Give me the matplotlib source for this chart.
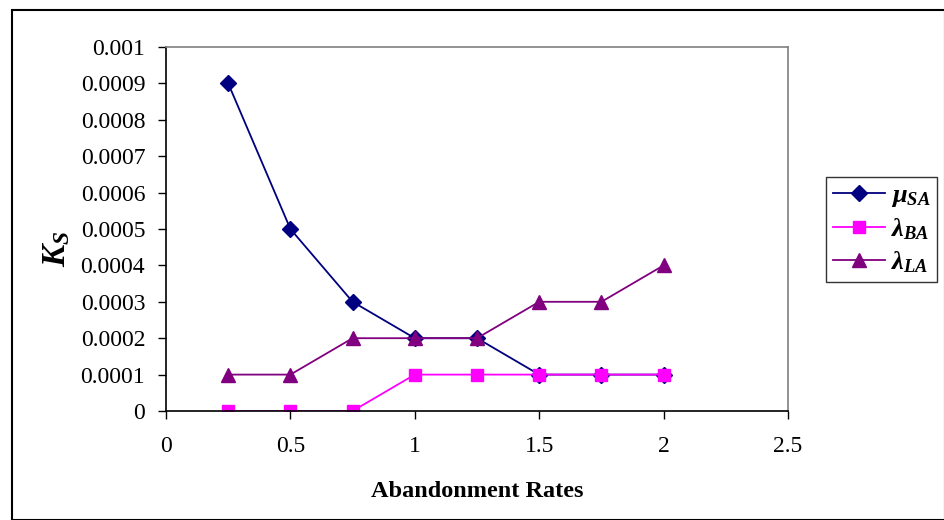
import matplotlib
matplotlib.use("Agg")
import matplotlib.pyplot as plt
from matplotlib.patches import Rectangle

plt.rcParams['font.family'] = ['Liberation Serif', 'DejaVu Serif']
plt.rcParams['mathtext.fontset'] = 'custom'
plt.rcParams['mathtext.rm'] = 'Liberation Serif:bold'
plt.rcParams['mathtext.it'] = 'Liberation Serif:bold:italic'
plt.rcParams['mathtext.bf'] = 'Liberation Serif:bold'

rates = [0.25, 0.5, 0.75, 1.0, 1.25, 1.5, 1.75, 2.0]
mu_sa = [0.0009, 0.0005, 0.0003, 0.0002, 0.0002, 0.0001, 0.0001, 0.0001]
lambda_ba = [0.0, 0.0, 0.0, 0.0001, 0.0001, 0.0001, 0.0001, 0.0001]
lambda_la = [0.0001, 0.0001, 0.0002, 0.0002, 0.0002, 0.0003, 0.0003, 0.0004]

x_ticks = [0, 0.5, 1, 1.5, 2, 2.5]
x_tick_labels = ['0', '0.5', '1', '1.5', '2', '2.5']
y_ticks = [0, 0.0001, 0.0002, 0.0003, 0.0004, 0.0005, 0.0006, 0.0007, 0.0008, 0.0009, 0.001]
y_tick_labels = ['0', '0.0001', '0.0002', '0.0003', '0.0004', '0.0005',
                 '0.0006', '0.0007', '0.0008', '0.0009', '0.001']

fig = plt.figure(figsize=(9.45, 5.2), dpi=100)
fig.patch.set_facecolor('white')

# outer chart frame
fig.add_artist(Rectangle((12 / 945, 0.0), 1 - 12 / 945, 1 - 10 / 520,
                         transform=fig.transFigure, fill=False,
                         edgecolor='black', linewidth=1.5))

ax = fig.add_axes([166 / 945, 1 - 411 / 520, 622 / 945, 364 / 520])
ax.plot(rates, mu_sa, color='#000080', marker='D', markersize=8.5, linewidth=1.3,
        label=r'$\mu_{SA}$')
ax.plot(rates, lambda_ba, color='#FF00FF', marker='s', markersize=9, linewidth=1.3,
        label=r'$\lambda_{BA}$')
ax.plot(rates, lambda_la, color='#800080', marker='^', markersize=10, linewidth=1.3,
        label=r'$\lambda_{LA}$')

ax.set_xlim(0, 2.5)
ax.set_ylim(0, 0.001)
ax.set_xticks(x_ticks)
ax.set_xticklabels(x_tick_labels)
ax.set_yticks(y_ticks)
ax.set_yticklabels(y_tick_labels)
ax.tick_params(direction='out', length=6, width=1, labelsize=17, pad=9)
ax.tick_params(axis='x', pad=12)

for side in ('top', 'right'):
    ax.spines[side].set_color('#808080')
    ax.spines[side].set_linewidth(1.2)
for side in ('left', 'bottom'):
    ax.spines[side].set_color('black')
    ax.spines[side].set_linewidth(1.2)

ax.set_xlabel('Abandonment Rates', fontsize=17.5, fontweight='bold', labelpad=17)
fig.text(57 / 945, 1 - 249 / 520, r'$K_S$', fontsize=24,
         rotation=90, ha='center', va='center')

leg = ax.legend(loc='upper left', bbox_to_anchor=(826 / 945, 1 - 177 / 520),
                bbox_transform=fig.transFigure, frameon=True, fancybox=False,
                fontsize=19, handlelength=2.0, borderpad=0.25, labelspacing=0.28,
                handletextpad=0.2, borderaxespad=0)
leg.get_frame().set_edgecolor('black')
leg.get_frame().set_linewidth(1.0)

fig.savefig('out.png', dpi=100)
